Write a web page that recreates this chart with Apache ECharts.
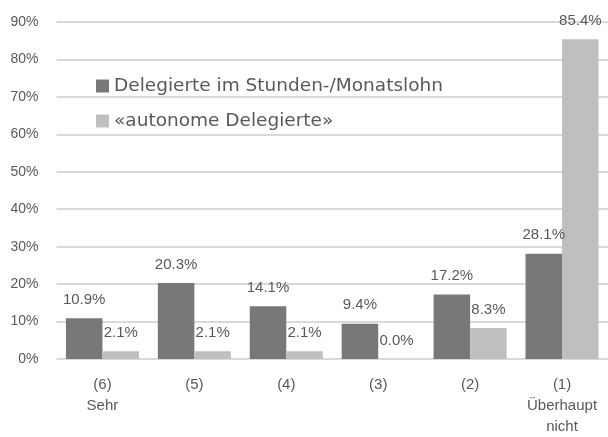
<!DOCTYPE html>
<html>
<head>
<meta charset="utf-8">
<script src="https://cdn.jsdelivr.net/npm/echarts@6/dist/echarts.min.js"></script>
<style>
html,body{margin:0;padding:0;background:#fff;}
#chart{width:608px;height:437px;}
</style>
</head>
<body>
<div id="chart"></div>
<script>
var categories = ['(6)\nSehr', '(5)', '(4)', '(3)', '(2)', '(1)\nÜberhaupt\nnicht'];
var stundenlohn = [10.9, 20.3, 14.1, 9.4, 17.2, 28.1];
var autonom = [2.1, 2.1, 2.1, 0.0, 8.3, 85.4];
var seriesNames = ['Delegierte im Stunden-/Monatslohn', '«autonome Delegierte»'];

var font = 'Liberation Sans';
var textColor = '#595959';

var labelOpt = {
	show: true,
	position: 'top',
	distance: 11,
	color: textColor,
	fontFamily: font,
	fontSize: 15,
	formatter: function(p){ return p.value.toFixed(1) + '%'; }
};

var chart = echarts.init(document.getElementById('chart'));
chart.setOption({
	animation: false,
	textStyle: {fontFamily: font},
	legend: {
		orient: 'vertical',
		left: 91,
		top: 71,
		itemWidth: 13,
		itemHeight: 13,
		itemGap: 15,
		icon: 'rect',
		textStyle: {color: textColor, fontSize: 18.5, lineHeight: 20, fontFamily: 'DejaVu Sans'},
		data: seriesNames
	},
	grid: {left: 56.5, right: 0, top: 22, bottom: 75},
	xAxis: {
		type: 'category',
		data: categories,
		axisLine: {show: false},
		axisTick: {show: false},
		axisLabel: {interval: 0, color: textColor, fontSize: 15, fontFamily: font, margin: 15, lineHeight: 21}
	},
	yAxis: {
		type: 'value',
		min: 0,
		max: 90,
		interval: 10,
		axisLabel: {color: textColor, fontSize: 14, fontFamily: font, margin: 18, formatter: '{value}%'},
		splitLine: {lineStyle: {color: '#d9d9d9', width: 2}}
	},
	series: [{
		name: seriesNames[0],
		type: 'bar',
		data: stundenlohn,
		itemStyle: {color: '#787878'},
		barGap: '0%',
		barCategoryGap: '20.5%',
		label: labelOpt
	}, {
		name: seriesNames[1],
		type: 'bar',
		data: autonom,
		itemStyle: {color: '#bfbfbf'},
		label: labelOpt
	}]
});
</script>
</body>
</html>
